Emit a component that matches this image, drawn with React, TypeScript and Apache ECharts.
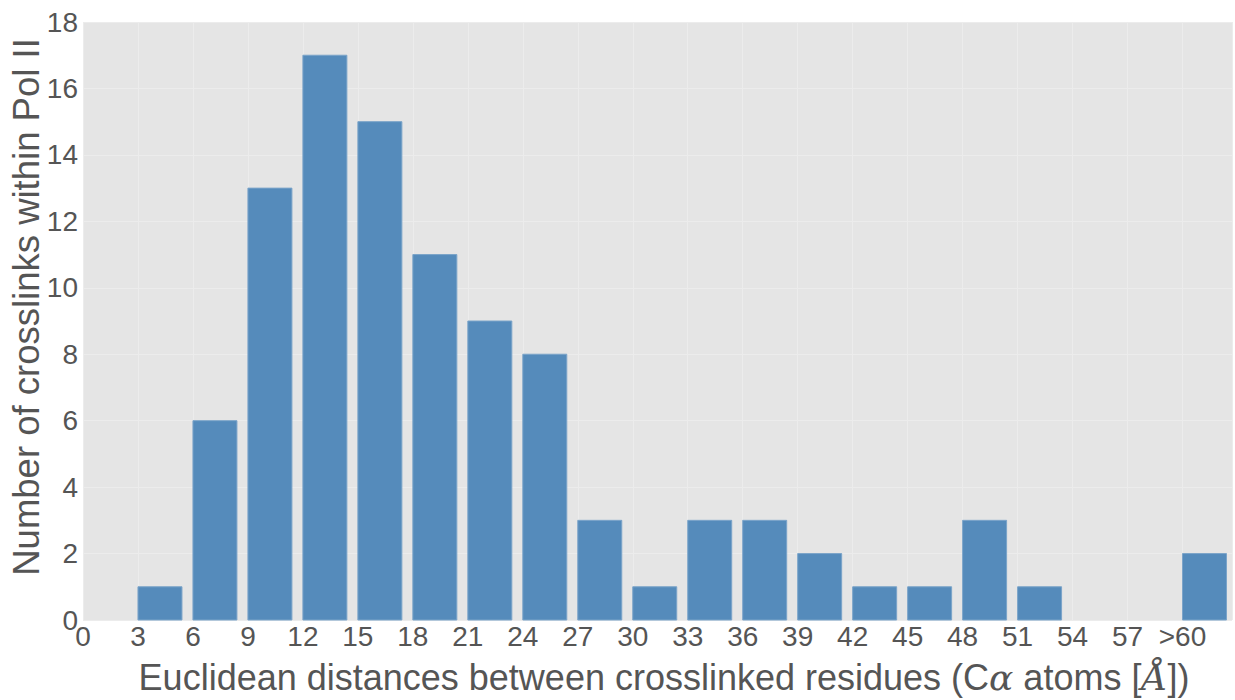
import React, { useEffect, useRef } from "react";
import * as echarts from "echarts";

const binStarts = [3, 6, 9, 12, 15, 18, 21, 24, 27, 30, 33, 36, 39, 42, 45, 48, 51, 54, 57, 60];
const counts = [1, 6, 13, 17, 15, 11, 9, 8, 3, 1, 3, 3, 2, 1, 1, 3, 1, 0, 0, 2];
const xTickLabels: Record<number, string> = { 60: ">60" };
const barWidthUnits = 2.4;

export default function App() {
  const ref = useRef<HTMLDivElement>(null);
  useEffect(() => {
    const chart = echarts.init(ref.current!, null, { renderer: "svg" });
    const textColor = "#555555";
    const font = "Liberation Sans, Arial, sans-serif";
    chart.setOption({
      animation: false,
      backgroundColor: "#ffffff",
      grid: { left: 83, top: 22, right: 0, bottom: 80, containLabel: false, show: true, backgroundColor: "#e5e5e5", borderWidth: 0 },
      xAxis: {
        type: "value",
        min: 0,
        max: 62.7,
        interval: 3,
        axisLine: { show: false },
        axisTick: { show: false },
        splitLine: { show: true, lineStyle: { color: "#ececec", width: 1 } },
        axisLabel: {
          color: textColor,
          fontSize: 28,
          fontFamily: font,
          margin: 2,
          showMaxLabel: true,
          formatter: (v: number) => {
            if (Math.abs(v % 3) > 1e-6) return "";
            return xTickLabels[v] ?? String(v);
          },
        },
      },
      yAxis: {
        type: "value",
        min: 0,
        max: 18,
        interval: 2,
        axisLine: { show: false },
        axisTick: { show: false },
        splitLine: { show: true, lineStyle: { color: "#ececec", width: 1 } },
        axisLabel: { color: textColor, fontSize: 28, fontFamily: font, margin: 5 },
      },
      series: [
        {
          type: "custom",
          data: binStarts.map((s, i) => [s, counts[i]]),
          renderItem: (params: any, api: any) => {
            const start = api.value(0);
            const val = api.value(1);
            if (!val) return null;
            const p0 = api.coord([start, val]);
            const p1 = api.coord([start + barWidthUnits, 0]);
            return {
              type: "rect",
              shape: { x: p0[0], y: p0[1], width: p1[0] - p0[0], height: p1[1] - p0[1] },
              style: { fill: "#558bbb", stroke: "#7ba4c9", lineWidth: 1 },
            };
          },
        },
      ],
      graphic: [
        {
          type: "text",
          x: 26,
          y: 307,
          rotation: Math.PI / 2,
          style: {
            text: "Number of crosslinks within Pol II",
            fill: textColor,
            fontSize: 36.5,
            fontFamily: font,
            align: "center",
            verticalAlign: "middle",
          },
        },
        {
          type: "text",
          x: 664,
          y: 677,
          style: {
            text: "Euclidean distances between crosslinked residues (C{m|α} atoms [{m|Å}])",
            fill: textColor,
            fontSize: 36,
            fontFamily: font,
            align: "center",
            verticalAlign: "middle",
            rich: {
              m: { fontSize: 36, fontStyle: "italic", fontFamily: "DejaVu Serif, Liberation Serif, serif", fill: textColor },
            },
          },
        },
      ],
    });
    return () => chart.dispose();
  }, []);
  return <div ref={ref} style={{ position: "fixed", left: 0, top: 0, width: 1235, height: 700 }} />;
}
